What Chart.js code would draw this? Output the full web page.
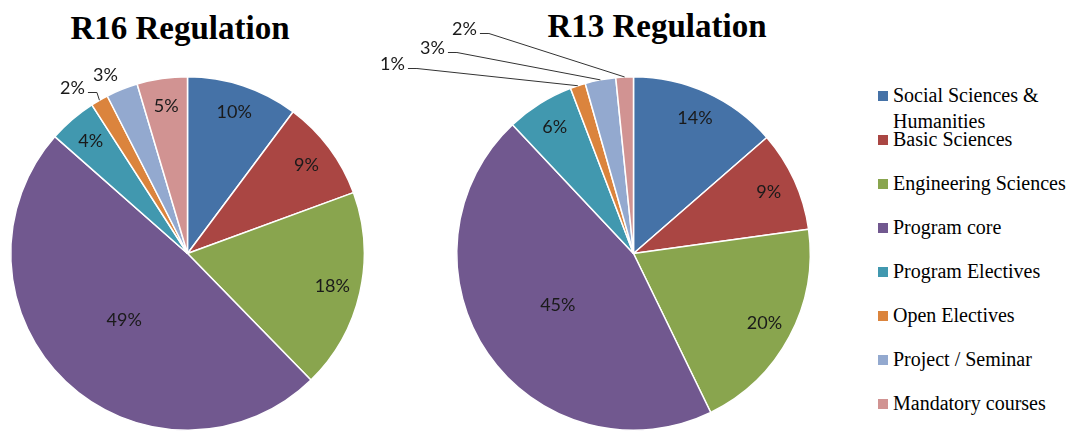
<!DOCTYPE html>
<html>
<head>
<meta charset="utf-8">
<script src="https://cdn.jsdelivr.net/npm/chart.js@4"></script>
<style>
  html, body { margin: 0; padding: 0; background: #fff; overflow: hidden; }
  body { width: 1073px; height: 436px; position: relative; }
  .title { position: absolute; width: 300px; text-align: center; white-space: nowrap;
           font-family: "Liberation Serif", serif; font-weight: bold; font-size: 33px; line-height: 36px; color: #000; }
  .pie { position: absolute; top: 0; height: 436px; }
  #legend { position: absolute; left: 878px; top: 0; }
  .item { position: absolute; left: 0; width: 200px; font-family: "Liberation Serif", serif;
          font-size: 20px; line-height: 26px; color: #000; }
  .box { position: absolute; left: 0; top: 9px; width: 10px; height: 10px; }
  .txt { position: absolute; left: 15px; width: 182px; }
</style>
</head>
<body>
<div class="title" style="left:30px; top:10px;">R16 Regulation</div>
<div class="title" style="left:507px; top:8px;">R13 Regulation</div>
<div class="pie" style="left:0; width:370px;"><canvas id="r16"></canvas></div>
<div class="pie" style="left:370px; width:490px;"><canvas id="r13"></canvas></div>
<div id="legend"></div>

<script>
const categories = ["Social Sciences & Humanities", "Basic Sciences", "Engineering Sciences",
  "Program core", "Program Electives", "Open Electives", "Project / Seminar", "Mandatory courses"];
const colors = ["#4572A7", "#AA4643", "#89A54E", "#71588F", "#4198AF", "#DB843D", "#93A9CF", "#D19392"];

// share of credits
const r16Values = [10.2, 9.2, 18.3, 48.8, 4.4, 1.6, 2.9, 4.6];
const r13Values = [13.6, 9.2, 20.0, 45.2, 6.2, 1.4, 2.8, 1.6];

// percentage labels, inside the slices or pulled out for the thin ones
const sliceLabels = {
  id: "sliceLabels",
  afterDatasetsDraw(chart, args, opts) {
    const ctx = chart.ctx;
    const data = chart.data.datasets[0].data;
    const total = data.reduce((a, b) => a + b, 0);
    const outside = opts.outside || {};
    ctx.save();
    ctx.font = "18px Lato";
    ctx.fillStyle = "#1a1a1a";
    ctx.textAlign = "center";
    ctx.textBaseline = "middle";
    chart.getDatasetMeta(0).data.forEach((arc, i) => {
      const p = arc.getProps(["x", "y", "startAngle", "endAngle", "outerRadius"], true);
      const mid = (p.startAngle + p.endAngle) / 2;
      const text = Math.round(data[i] / total * 100) + "%";
      const o = outside[i];
      if (o) {
        const tx = p.x + o.dx, ty = p.y + o.dy;
        ctx.fillText(text, tx, ty);
        if (o.leader) {
          const w = ctx.measureText(text).width;
          const ex = p.x + Math.cos(mid) * p.outerRadius;
          const ey = p.y + Math.sin(mid) * p.outerRadius;
          ctx.beginPath();
          ctx.moveTo(tx + w / 2 + 3, ty + 4);
          ctx.lineTo(tx + w / 2 + 12, ty + 4);
          ctx.lineTo(ex, ey);
          ctx.strokeStyle = "#333";
          ctx.lineWidth = 1;
          ctx.stroke();
        }
      } else {
        const f = data[i] / total > 0.4 ? 0.52 : 0.84;
        ctx.fillText(text, p.x + Math.cos(mid) * p.outerRadius * f, p.y + Math.sin(mid) * p.outerRadius * f);
      }
    });
    ctx.restore();
  }
};

function makePie(id, values, padding, outside) {
  return new Chart(document.getElementById(id), {
    type: "pie",
    data: {
      labels: categories,
      datasets: [{ data: values, backgroundColor: colors, borderColor: "#fff", borderWidth: 1.5 }]
    },
    options: {
      responsive: true,
      maintainAspectRatio: false,
      animation: false,
      layout: { padding: padding },
      plugins: {
        legend: { display: false },
        tooltip: { enabled: false },
        sliceLabels: { outside: outside }
      }
    },
    plugins: [sliceLabels]
  });
}

makePie("r16", r16Values, { left: 10, top: 76, right: 5, bottom: 5 }, {
  5: { dx: -115, dy: -165, leader: true },
  6: { dx: -82, dy: -178, leader: false }
});
makePie("r13", r13Values, { left: 86, top: 76, right: 49, bottom: 5 }, {
  5: { dx: -241, dy: -189, leader: true },
  6: { dx: -201, dy: -205, leader: true },
  7: { dx: -169, dy: -224, leader: true }
});

// legend
const legend = document.getElementById("legend");
categories.forEach((name, i) => {
  const item = document.createElement("div");
  item.className = "item";
  item.style.top = (82 + i * 44) + "px";
  item.innerHTML = '<div class="box" style="background:' + colors[i] + '"></div><div class="txt"></div>';
  item.querySelector(".txt").textContent = name;
  legend.appendChild(item);
});
</script>
</body>
</html>
